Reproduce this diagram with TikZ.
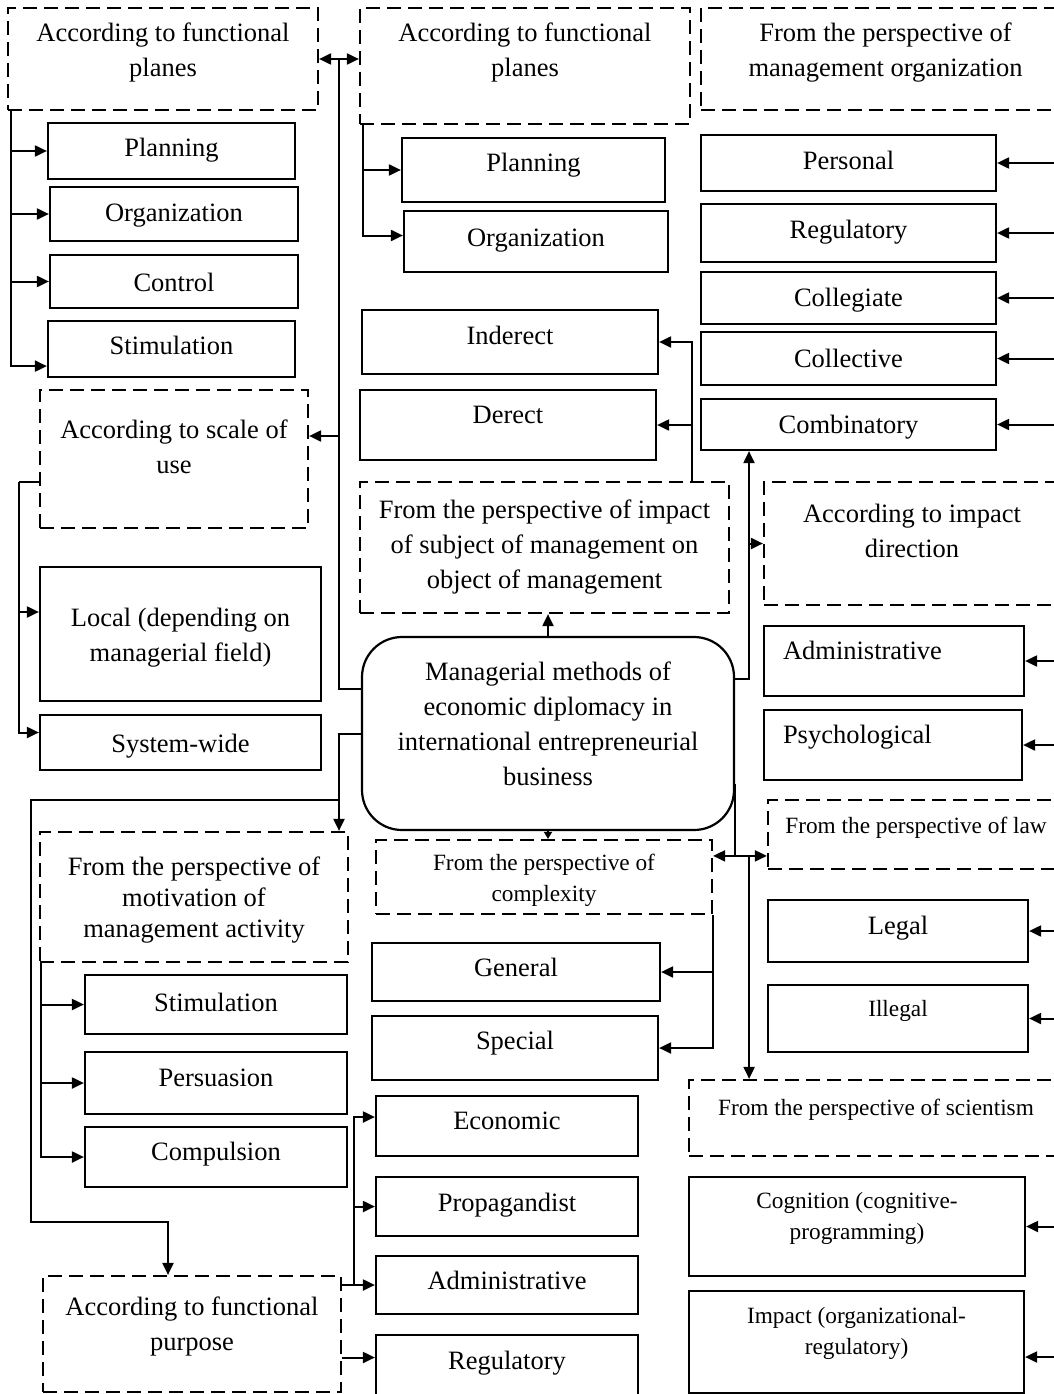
\documentclass[tikz,border=0pt]{standalone}
\usepackage{fontspec}
\setmainfont{Liberation Serif}
\usetikzlibrary{arrows.meta,calc}
\newcommand{\nfont}{\fontsize{26.5pt}{35pt}\selectfont}
\newcommand{\sfont}{\fontsize{23.3pt}{31pt}\selectfont}

\begin{document}
\begin{tikzpicture}[
  x=1pt,y=-1pt,
  box/.style={draw,line width=2.2pt,inner sep=0pt,align=center,font=\nfont,
              text height=25pt,text depth=6pt},
  dbox/.style={box,dash pattern=on 14pt off 7pt},
  small/.style={font=\sfont,text height=23pt,text depth=5pt},
  sz/.style 2 args={minimum width=#1pt,minimum height=#2pt},
  arr/.style={-{Triangle[length=12pt,width=11pt]},line width=2pt},
  darr/.style={{Triangle[length=12pt,width=11pt]}-{Triangle[length=12pt,width=11pt]},line width=2pt},
  line/.style={line width=2pt}
]
\useasboundingbox (0,0) rectangle (1054,1394);
\clip (0,0) rectangle (1054,1394);

% top row of criteria
\node[dbox,sz={310}{102},text height=60pt,text depth=24pt] (fp1) at (163,59) {According to functional\\planes};
\node[dbox,sz={330}{116},text height=60pt,text depth=38pt] (fp2) at (525,66) {According to functional\\planes};
\node[dbox,sz={369}{102},text height=60pt,text depth=24pt] (mgorg) at (885.5,59) {From the perspective of\\management organization};

% left column
\node[box,sz={247}{56},text depth=14pt] (lplan) at (171.5,151) {Planning};
\node[box,sz={248}{54},text depth=10pt] (lorg) at (174,214) {Organization};
\node[box,sz={248}{53}] (lctrl) at (174,281.5) {Control};
\node[box,sz={247}{56},text depth=14pt] (lstim) at (171.5,349) {Stimulation};
\node[dbox,sz={268}{138},text height=60pt,text depth=32pt] (scale) at (174,459) {According to scale of\\use};
\node[box,sz={281}{134},text height=60pt] (local) at (180.5,634) {Local (depending on\\managerial field)};
\node[box,sz={281}{55}] (syswide) at (180.5,742.5) {System-wide};

% middle column
\node[box,sz={263}{64},text depth=22pt] (mplan) at (533.5,170) {Planning};
\node[box,sz={264}{61},text depth=16pt] (morg) at (536,241.5) {Organization};
\node[box,sz={296}{64},text depth=20pt] (indir) at (510,342) {Inderect};
\node[box,sz={296}{70},text depth=28pt] (dir) at (508,425) {Derect};
\node[dbox,sz={369}{131},text height=95pt,text depth=14pt] (impact) at (544.5,547.5) {From the perspective of impact\\of subject of management on\\object of management};
\node[box,sz={372}{193},rounded corners=40pt,text height=130pt,text depth=26pt] (main) at (548,733.5) {Managerial methods of\\economic diplomacy in\\international entrepreneurial\\business};

% right column
\node[box,sz={295}{56},text depth=12pt] (pers) at (848.5,163) {Personal};
\node[box,sz={295}{58},text depth=14pt] (regul) at (848.5,233) {Regulatory};
\node[box,sz={295}{52},text depth=8pt] (colleg) at (848.5,298) {Collegiate};
\node[box,sz={295}{53},text depth=8pt] (collect) at (848.5,358.5) {Collective};
\node[box,sz={295}{51},text depth=8pt] (combi) at (848.5,424.5) {Combinatory};
\node[dbox,sz={296}{123},text height=60pt,text depth=32pt] (impdir) at (912,543.5) {According to impact\\direction};
\node[box,sz={260}{70},text depth=28pt,text width=222pt,align=left,inner xsep=19pt] (admr) at (894,661) {Administrative};
\node[box,sz={258}{70},text depth=28pt,text width=220pt,align=left,inner xsep=19pt] (psych) at (893,745) {Psychological};

% lower left
\node[dbox,sz={308}{130},font={\fontsize{26.5pt}{31pt}\selectfont},text height=87pt] (motiv) at (194,897) {From the perspective of\\motivation of\\management activity};
\node[box,sz={262}{59},text depth=12pt] (bstim) at (216,1004.5) {Stimulation};
\node[box,sz={262}{62},text depth=18pt] (persu) at (216,1083) {Persuasion};
\node[box,sz={262}{60},text depth=18pt] (compul) at (216,1157) {Compulsion};
\node[dbox,sz={298}{116},text height=60pt,text depth=28pt] (purpose) at (192,1334) {According to functional\\purpose};

% lower middle
\node[dbox,small,sz={336}{74},text height=54pt] (complex) at (544,877) {From the perspective of\\complexity};
\node[box,sz={288}{58},text depth=16pt] (gen) at (516,972) {General};
\node[box,sz={286}{64},text depth=22pt] (spec) at (515,1048) {Special};
\node[box,sz={262}{60},text depth=18pt] (econ) at (507,1126) {Economic};
\node[box,sz={262}{59},text depth=16pt] (prop) at (507,1206.5) {Propagandist};
\node[box,sz={262}{58},text depth=16pt] (adm) at (507,1285) {Administrative};
\node[box,sz={262}{65},text depth=22pt] (reg) at (507,1367.5) {Regulatory};

% lower right
\node[dbox,small,sz={296}{69},text depth=25pt] (law) at (916,834.5) {From the perspective of law};
\node[box,sz={260}{62},text depth=18pt] (legal) at (898,931) {Legal};
\node[box,small,sz={260}{67},text depth=27pt] (illegal) at (898,1018.5) {Illegal};
\node[dbox,small,sz={374}{76},text depth=29pt] (sci) at (876,1118) {From the perspective of scientism};
\node[box,small,sz={336}{99},text height=54pt,text depth=29pt] (cogn) at (857,1226.5) {Cognition (cognitive-\\programming)};
\node[box,small,sz={335}{102},text height=54pt,text depth=29pt] (impc) at (856.5,1342) {Impact (organizational-\\regulatory)};

% functional planes, left
\coordinate (fp1bus) at ([xshift=4pt]fp1.south west);
\draw[arr] (fp1bus) |- ([yshift=12pt]lstim.south west);
\foreach \n in {lplan,lorg,lctrl}
  \draw[arr] (fp1bus |- \n.west) -- (\n.west);

% link of the two planes and left trunk
\coordinate (lbus) at ($(fp1.east)!0.5!(fp1.east -| fp2.west)$);
\draw[darr] (fp1.east) -- (fp1.east -| fp2.west);
\draw[line] (lbus) |- ([yshift=45pt]main.west);
\coordinate (scalein) at ([yshift=23pt]scale.east);
\draw[arr] (lbus |- scalein) -- (scalein);

% functional planes, middle
\coordinate (fp2bus) at ([xshift=4pt]fp2.south west);
\draw[arr] (fp2bus) |- ([yshift=6pt]morg.west);
\draw[arr] (fp2bus |- mplan.west) -- (mplan.west);

% scale of use
\coordinate (scbus) at ([xshift=-20pt,yshift=-23pt]scale.west);
\draw[line] ([yshift=-23pt]scale.west) -- (scbus);
\draw[arr] (scbus) |- ([yshift=10pt]syswide.west);
\coordinate (localin) at ([yshift=22pt]local.west);
\draw[arr] (scbus |- localin) -- (localin);

% motivation and purpose
\coordinate (mbus) at (main.west -| lbus);
\draw[arr] (main.west) -- (mbus) -- (mbus |- motiv.north);
\coordinate (turn) at (31,800);
\coordinate (drop) at (31,1222);
\draw[arr] (mbus |- turn) -- (turn) -- (drop) -| ([xshift=-24pt]purpose.north);
\coordinate (mtbus) at ([xshift=2pt]motiv.south west);
\draw[arr] (mtbus) |- (compul.west);
\foreach \n in {bstim,persu}
  \draw[arr] (mtbus |- \n.west) -- (\n.west);
\coordinate (pbus) at ($(purpose.east |- adm.west)+(12,0)$);
\draw[arr] (purpose.east |- adm.west) -- (adm.west);
\draw[arr] (pbus) |- ([yshift=9pt]econ.west);
\draw[arr] (pbus |- prop.west) -- (prop.west);
\coordinate (regin) at ([yshift=10pt]reg.west);
\draw[arr] (purpose.east |- regin) -- (regin);

% impact of subject on object
\draw[arr] (main.north) -- (main.north |- impact.south);
\coordinate (ibus) at ([xshift=-38pt]impact.north east);
\draw[arr] (ibus) |- (indir.east);
\draw[arr] (ibus |- dir.east) -- (dir.east);

% right trunk
\coordinate (rbus) at ($(main.east)!0.5!(main.east -| impdir.west)$);
\draw[arr] ([yshift=55pt]main.east) -| (rbus |- combi.south);
\draw[arr] (rbus |- impdir.west) -- (impdir.west);

% complexity, law, scientism
\coordinate (jn) at ($(main.east |- complex.north)+(0,17)$);
\draw[line] ([yshift=-50pt]main.east) -- (jn);
\draw[darr] (jn -| complex.east) -- (jn -| law.west);
\coordinate (sbus) at ([xshift=14pt]jn);
\draw[arr] (sbus) -- (sbus |- sci.north);
\draw[-{Triangle[length=7pt,width=8pt]},line width=1.5pt] (main.south) -- (main.south |- complex.north);
\draw[arr] (complex.south east) |- (spec.east);
\draw[arr] (complex.south east |- gen.east) -- (gen.east);

% arrows coming in from the right edge
\coordinate (edge) at (1060,0);
\foreach \n in {pers,regul,colleg,collect,combi,admr,psych,legal,illegal,cogn}
  \draw[arr] (edge |- \n.east) -- (\n.east);
\coordinate (impcin) at ([yshift=-15pt]impc.east);
\draw[arr] (edge |- impcin) -- (impcin);
\end{tikzpicture}
\end{document}
